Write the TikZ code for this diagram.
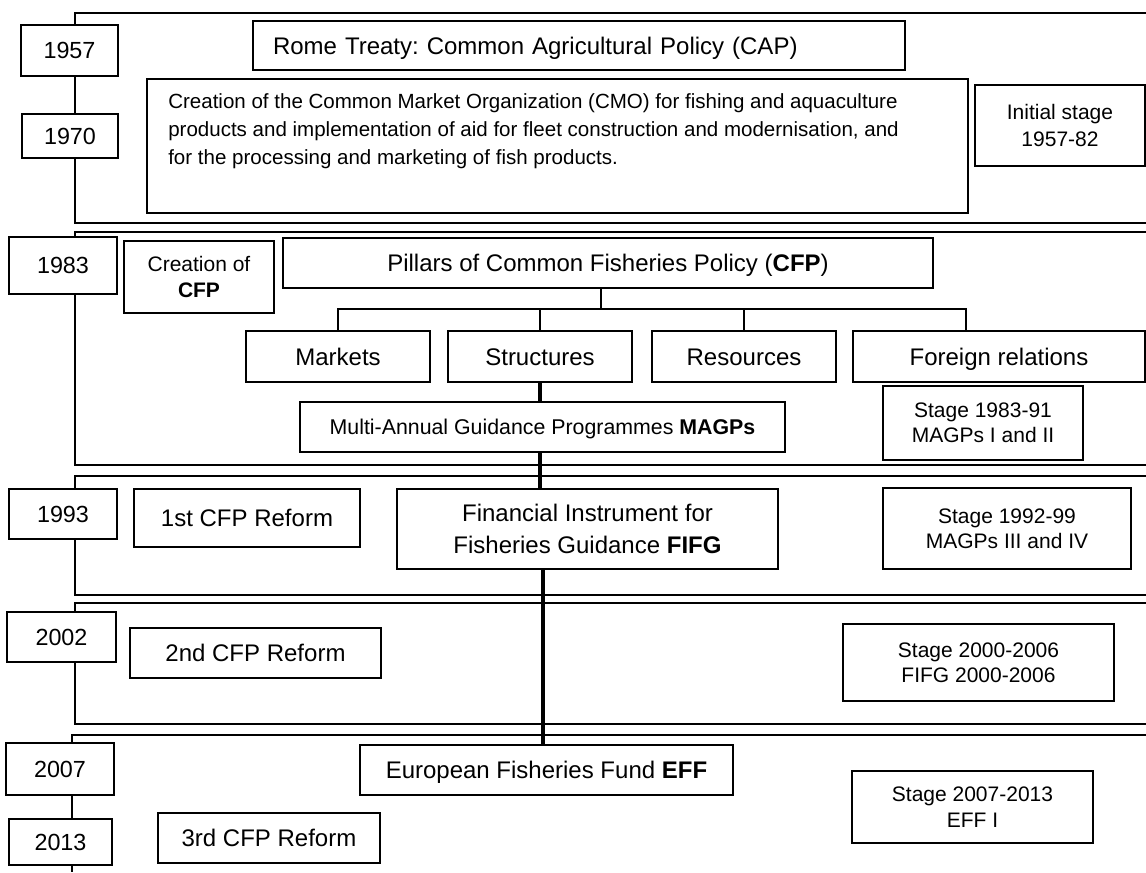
\documentclass[tikz,border=0pt]{standalone}
\usepackage{fontspec}
\setmainfont{Liberation Sans}
\frenchspacing
\begin{document}
\begin{tikzpicture}[x=0.75pt,y=-0.75pt,
  panel/.style={line width=1.2pt},
  box/.style={draw, line width=1.15pt, fill=white, inner sep=0pt, align=center},
  one/.style={text height=#1, text depth=0pt},
  big/.style={font=\fontsize{18}{24}\selectfont\frenchspacing},
  small/.style={font=\fontsize{15.75}{19}\selectfont},
  yr/.style={box, one=12.6pt, font=\fontsize{17.5}{21}\selectfont},
  sz/.style 2 args={minimum width={#1*0.75pt}, minimum height={#2*0.75pt}},
  conn/.style={line width=1.8pt},
  spine/.style={line width=2.4pt},
]
\useasboundingbox (0,0) rectangle (1146,872);
\fill[white] (0,0) rectangle (1146,872);

% panels
\draw[panel] (1146,12.7) -| (75,222.7) -- (1146,222.7);
\draw[panel] (1146,232) -| (75,465) -- (1146,465);
\draw[panel] (1146,476) -| (75,595) -- (1146,595);
\draw[panel] (1146,603) -| (75,724) -- (1146,724);
\draw[panel] (1146,735) -| (72,872);

% years
\node[yr, sz={97}{51}] (y1957) at (69.5,50.5) {1957};
\node[yr, sz={96}{44}] (y1970) at (70,136) {1970};
\node[yr, sz={108}{57}] (y1983) at (63,265.5) {1983};
\node[yr, sz={108}{50}] (y1993) at (63,514) {1993};
\node[yr, sz={109}{50}] (y2002) at (61.5,637) {2002};
\node[yr, sz={108}{52}] (y2007) at (60,769) {2007};
\node[yr, sz={103}{46}] (y2013) at (60.5,842) {2013};

% stage 1
\node[box, big, one=12.9pt, sz={652}{49}, text width={612*0.75pt}, inner xsep={20*0.75pt}, align=left] (rome) at (579,45.5) {Rome Treaty: Common Agricultural Policy (CAP)};
\node[box, sz={821}{134}] (cmo) at (557.5,146) {};
\node[anchor=west, inner sep=0pt, align=left, font=\fontsize{15.4}{21}\selectfont] (cmotext) at (168,131) {Creation of the Common Market Organization (CMO) for fishing and aquaculture\\products and implementation of aid for fleet construction and modernisation, and\\for the processing and marketing of fish products.};
\node[box, font=\fontsize{15.75}{20}\selectfont, sz={170}{81}] (init) at (1060,125.5) {Initial stage\\1957-82};

% stage 2
\node[box, font=\fontsize{15.75}{20}\selectfont, sz={150}{72}] (cfpc) at (199,277) {Creation of\\\textbf{CFP}};
\node[box, big, one=12.9pt, sz={650}{50}] (pillars) at (608,263) {Pillars of Common Fisheries Policy (\textbf{CFP})};
\node[box, big, one=12.9pt, sz={184}{51}] (markets) at (338,356.5) {Markets};
\node[box, big, one=12.9pt, sz={184}{51}] (structures) at (540,356.5) {Structures};
\node[box, big, one=12.9pt, sz={184}{51}] (resources) at (744,356.5) {Resources};
\node[box, big, one=12.9pt, sz={292}{51}] (foreign) at (999,356.5) {Foreign relations};
\node[box, one=11.5pt, font=\fontsize{16}{19}\selectfont, sz={485}{50}] (magps) at (542.5,427) {Multi-Annual Guidance Programmes \textbf{MAGPs}};
\node[box, small, sz={200}{74}] (s8391) at (983,423) {Stage 1983-91\\MAGPs I and II};

% stage 3
\node[box, big, one=12.9pt, sz={226}{58}] (ref1) at (247,518) {1st CFP Reform};
\node[box, big, sz={381}{80}] (fifg) at (587.5,529) {Financial Instrument for\\Fisheries Guidance \textbf{FIFG}};
\node[box, small, sz={248}{81}] (s9299) at (1007,528.5) {Stage 1992-99\\MAGPs III and IV};

% stage 4
\node[box, big, one=12.9pt, sz={251}{50}] (ref2) at (255.5,653) {2nd CFP Reform};
\node[box, small, sz={271}{77}] (s0006) at (978.5,662.5) {Stage 2000-2006\\FIFG 2000-2006};

% stage 5
\node[box, big, one=12.9pt, sz={373}{50}] (eff) at (546.5,770) {European Fisheries Fund \textbf{EFF}};
\node[box, big, one=12.9pt, sz={222}{50}] (ref3) at (269,838) {3rd CFP Reform};
\node[box, small, sz={241}{72}] (s0713) at (972.5,807) {Stage 2007-2013\\EFF I};

% connectors
\coordinate (jn) at (601,309);
\coordinate (frd) at (966,309);
\coordinate (sp) at (543,0);
\draw[conn] (pillars.south -| jn) -- (jn);
\draw[conn] (markets.north) |- (frd) -- (frd |- foreign.north);
\draw[conn] (structures.north) -- (structures.north |- jn);
\draw[conn] (resources.north) -- (resources.north |- jn);
\draw[spine] (structures.south) -- (structures.south |- magps.north);
\draw[spine] (structures.south |- magps.south) -- (structures.south |- fifg.north);
\draw[spine] (sp |- fifg.south) -- (sp |- eff.north);
\end{tikzpicture}
\end{document}
